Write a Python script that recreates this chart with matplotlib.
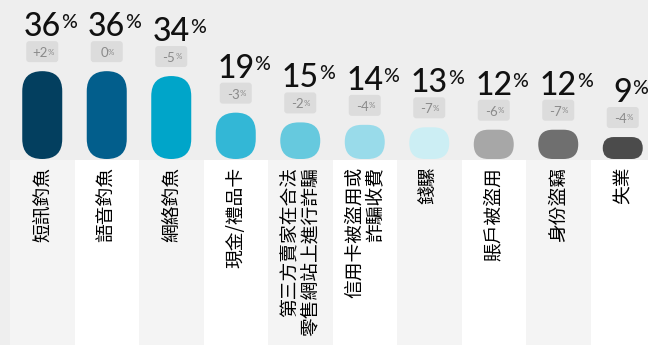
import matplotlib
matplotlib.use('Agg')
import matplotlib.pyplot as plt
from matplotlib.patches import Rectangle, FancyBboxPatch

# data
categories = ['短訊釣魚', '語音釣魚', '網絡釣魚', '現金/禮品卡',
              '第三方賣家在合法\n零售網站上進行詐騙', '信用卡被盜用或\n詐騙收費',
              '錢騾', '賬戶被盜用', '身份盜竊', '失業']
values = [36, 36, 34, 19, 15, 14, 13, 12, 12, 9]
changes = ['+2', '0', '-5', '-3', '-2', '-4', '-7', '-6', '-7', '-4']
colors = ['#033f5f', '#025e8c', '#00a5c9', '#33b7d6', '#66c9de',
          '#99dbea', '#cceef4', '#a7a7a7', '#6f6f6f', '#4b4b4b']

# layout (pixel units)
W, H = 648, 345
x0, col_w = 10, 64.5
panel_top = 160
bar_base = 159
bar_w = 40
px_per_pct = 2.44

fig = plt.figure(figsize=(W / 100, H / 100), dpi=100, facecolor='#eeeeee')
ax = fig.add_axes([0, 0, 1, 1])
ax.set_xlim(0, W)
ax.set_ylim(H, 0)
ax.axis('off')

for i, (cat, v, ch, c) in enumerate(zip(categories, values, changes, colors)):
    left = x0 + i * col_w
    cx = left + col_w / 2

    # label panel
    ax.add_patch(Rectangle((left, panel_top), col_w, H - panel_top,
                           fc='#f4f4f4' if i % 2 == 0 else 'white', ec='none'))

    # pill bar
    h = v * px_per_pct
    top = bar_base - h
    r = min(bar_w, h) / 2
    ax.add_patch(FancyBboxPatch((cx - bar_w / 2, top), bar_w, h,
                                boxstyle=f'round,pad=0,rounding_size={r}',
                                fc=c, ec='none'))

    # value
    t = ax.text(cx, top - 35, str(v), fontsize=23, family='Lato', weight=500,
                ha='center', va='baseline', color='#111111')
    ax.annotate('%', xy=(1, 1), xycoords=t, xytext=(0, -1.5),
                textcoords='offset points', fontsize=14, family='Lato',
                weight=500, ha='left', va='top', color='#111111')

    # change badge
    ax.add_patch(FancyBboxPatch((cx - 16, top - 30), 32, 21,
                                boxstyle='round,pad=0,rounding_size=3',
                                fc='#dcdcdc', ec='none'))
    bt = ax.text(cx - 2.5, top - 14, ch, fontsize=9.5, family='Lato',
                 ha='center', va='baseline', color='#8a8a8a')
    ax.annotate('%', xy=(1, 1), xycoords=bt, xytext=(0, -1),
                textcoords='offset points', fontsize=5.8, family='Lato',
                ha='left', va='top', color='#8a8a8a')

    # category label
    ax.text(cx, panel_top + 7, cat, rotation=90, ha='center', va='top',
            multialignment='right', fontsize=13.5, linespacing=0.95,
            family=['Noto Sans CJK TC', 'DejaVu Sans'], color='#000000')

fig.savefig('out.png', dpi=100, facecolor=fig.get_facecolor())
